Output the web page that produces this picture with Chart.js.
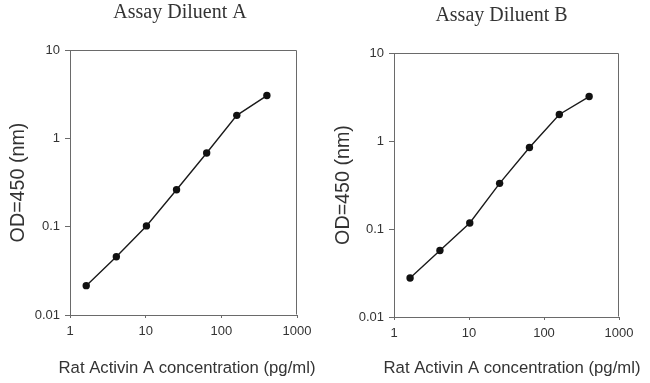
<!DOCTYPE html>
<html><head><meta charset="utf-8">
<script src="https://cdn.jsdelivr.net/npm/chart.js@4/dist/chart.umd.min.js"></script>
<style>
html,body{margin:0;padding:0;background:#fff;overflow:hidden;width:650px;height:383px}
canvas{position:absolute;top:0}
#cA{left:0}
#cB{left:325px}
</style></head>
<body>
<canvas id="cA" width="325" height="383"></canvas>
<canvas id="cB" width="325" height="383"></canvas>
<script>
// ---- data ----
const concentrations = [1.6384, 4.096, 10.24, 25.6, 64, 160, 400];
const odDiluentA = [0.0215, 0.0457, 0.102, 0.262, 0.682, 1.82, 3.05];
const odDiluentB = [0.0277, 0.0570, 0.117, 0.330, 0.845, 2.0, 3.2];
const xTickValues = [1, 10, 100, 1000];
const yTickValues = [0.01, 0.1, 1, 10];
const chartTitles = ['Assay Diluent A', 'Assay Diluent B'];
const xAxisTitle = 'Rat Activin A concentration (pg/ml)';
const yAxisTitle = 'OD=450 (nm)';

const SANS = '"Liberation Sans", Arial, sans-serif';
const SERIF = '"Liberation Serif", "Times New Roman", serif';
const AXIS_COLOR = '#6a6a6a';
const TEXT_COLOR = '#333';

const headerPlugin = {
  id: 'header',
  beforeDatasetsDraw(chart) {
    const a = chart.chartArea, ctx = chart.ctx;
    ctx.save();
    ctx.strokeStyle = AXIS_COLOR;
    ctx.lineWidth = 1;
    const l = Math.round(a.left) + 0.5, t = Math.round(a.top) + 0.5;
    const r = Math.round(a.right) - 0.5, b = Math.round(a.bottom) - 0.5;
    ctx.beginPath();
    ctx.moveTo(l, t); ctx.lineTo(r, t); ctx.lineTo(r, b);
    ctx.stroke();
    ctx.restore();
  },
  afterDraw(chart, args, opts) {
    const ctx = chart.ctx;
    ctx.save();
    ctx.fillStyle = TEXT_COLOR;
    ctx.textAlign = 'center';
    ctx.textBaseline = 'middle';
    ctx.font = '20px ' + SERIF;
    ctx.fillText(opts.text, opts.x, opts.y);
    ctx.font = '16.7px ' + SANS;
    ctx.fillText(opts.xTitle, opts.xTitleX, opts.xTitleY);
    ctx.restore();
  }
};

function makeChart(id, values, title, L) {
  return new Chart(document.getElementById(id), {
    type: 'line',
    data: {
      datasets: [{
        data: concentrations.map((x, i) => ({ x: x, y: values[i] })),
        borderColor: '#1a1a1a',
        borderWidth: 1.4,
        pointRadius: 3.7,
        pointBackgroundColor: '#111',
        pointBorderColor: '#111',
        pointBorderWidth: 0,
        tension: 0,
        fill: false
      }]
    },
    options: {
      responsive: false,
      animation: false,
      devicePixelRatio: 1,
      layout: { padding: { left: 0, top: L.top, right: L.right, bottom: 0 } },
      plugins: {
        legend: { display: false },
        tooltip: { enabled: false },
        header: { text: title, x: L.titleX, y: L.titleY, xTitle: xAxisTitle, xTitleX: L.xTitleX, xTitleY: 368 }
      },
      scales: {
        x: {
          type: 'logarithmic', position: 'bottom', min: 1, max: 1000,
          afterBuildTicks: s => { s.ticks = xTickValues.map(v => ({ value: v })); },
          afterFit: s => { s.height = L.xh; s.paddingLeft = 0; s.paddingRight = 0; },
          ticks: { callback: v => String(v), font: { family: SANS, size: 13 }, color: TEXT_COLOR, padding: 6, maxRotation: 0, autoSkip: false },
          grid: { display: true, drawOnChartArea: false, drawTicks: true, tickLength: 3, color: AXIS_COLOR },
          border: { display: true, color: AXIS_COLOR, width: 1 },
          title: { display: false }
        },
        y: {
          type: 'logarithmic', position: 'left', min: 0.01, max: 10,
          afterBuildTicks: s => { s.ticks = yTickValues.map(v => ({ value: v })); },
          afterFit: s => { s.width = L.yw; s.paddingTop = 0; s.paddingBottom = 0; },
          ticks: { callback: v => String(v), font: { family: SANS, size: 13 }, color: TEXT_COLOR, padding: 5, autoSkip: false },
          grid: { display: true, drawOnChartArea: false, drawTicks: true, tickLength: 5, color: AXIS_COLOR },
          border: { display: true, color: AXIS_COLOR, width: 1 },
          title: { display: true, text: yAxisTitle, font: { family: SANS, size: 19.7 }, color: TEXT_COLOR, padding: { top: 7, bottom: 0 } }
        }
      }
    },
    plugins: [headerPlugin]
  });
}

makeChart('cA', odDiluentA, chartTitles[0], { top: 50, right: 28, xh: 68, yw: 70, titleX: 180, titleY: 13, xTitleX: 187 });
makeChart('cB', odDiluentB, chartTitles[1], { top: 53, right: 31, xh: 66, yw: 69, titleX: 176.5, titleY: 16, xTitleX: 187 });
</script>
</body></html>
